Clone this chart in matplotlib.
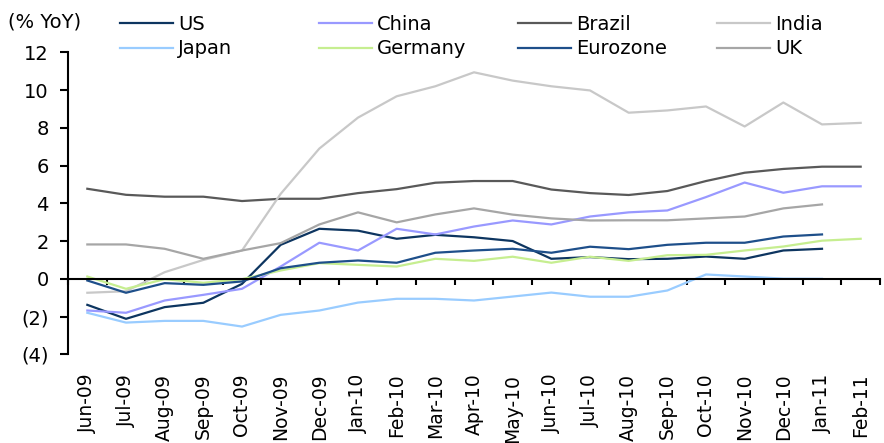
import numpy as np
import matplotlib
matplotlib.use("Agg")
import matplotlib.pyplot as plt

plt.rcParams['font.family'] = ['DejaVu Sans']

months = ['Jun-09', 'Jul-09', 'Aug-09', 'Sep-09', 'Oct-09', 'Nov-09', 'Dec-09',
          'Jan-10', 'Feb-10', 'Mar-10', 'Apr-10', 'May-10', 'Jun-10', 'Jul-10',
          'Aug-10', 'Sep-10', 'Oct-10', 'Nov-10', 'Dec-10', 'Jan-11', 'Feb-11']
nan = np.nan
us = [-1.38, -2.12, -1.5, -1.27, -0.27, 1.8, 2.65, 2.55, 2.12, 2.33, 2.2,
      2.0, 1.06, 1.15, 1.04, 1.06, 1.18, 1.06, 1.5, 1.59, nan]
china = [-1.68, -1.8, -1.15, -0.85, -0.53, 0.65, 1.91, 1.5, 2.65, 2.35, 2.77,
         3.09, 2.88, 3.3, 3.52, 3.62, 4.33, 5.1, 4.56, 4.9, 4.9]
brazil = [4.77, 4.45, 4.35, 4.35, 4.12, 4.24, 4.24, 4.54, 4.75, 5.09, 5.18,
          5.18, 4.73, 4.54, 4.44, 4.65, 5.18, 5.62, 5.82, 5.94, 5.94]
india = [-0.74, -0.66, 0.35, 1.0, 1.5, 4.5, 6.9, 8.54, 9.67, 10.2, 10.94,
         10.5, 10.2, 9.98, 8.8, 8.92, 9.13, 8.07, 9.34, 8.18, 8.26]
japan = [-1.8, -2.32, -2.23, -2.23, -2.53, -1.91, -1.68, -1.26, -1.06, -1.06, -1.15,
         -0.94, -0.73, -0.95, -0.95, -0.62, 0.23, 0.12, 0.01, 0.0, nan]
germany = [0.12, -0.53, -0.02, -0.21, -0.02, 0.44, 0.83, 0.74, 0.65, 1.06, 0.95,
           1.17, 0.85, 1.17, 0.95, 1.25, 1.27, 1.5, 1.71, 2.02, 2.12]
eurozone = [-0.09, -0.74, -0.23, -0.32, -0.14, 0.56, 0.85, 0.97, 0.85, 1.38, 1.5,
            1.59, 1.38, 1.7, 1.57, 1.8, 1.91, 1.91, 2.24, 2.35, nan]
uk = [1.82, 1.82, 1.59, 1.06, 1.5, 1.89, 2.88, 3.52, 2.99, 3.41, 3.73,
      3.4, 3.2, 3.09, 3.1, 3.1, 3.2, 3.3, 3.73, 3.94, nan]

names = ['US', 'China', 'Brazil', 'India', 'Japan', 'Germany', 'Eurozone', 'UK']
series = [us, china, brazil, india, japan, germany, eurozone, uk]
colors = ['#0d3560', '#9999ff', '#595959', '#c8c8c8',
          '#99ccff', '#c6ee90', '#1e4f8a', '#a6a6a6']
yticks = list(range(-4, 13, 2))
fs = 14

fig = plt.figure(figsize=(8.84, 4.43), dpi=100)
ax = fig.add_axes([68 / 884, 1 - 354.3 / 443, 812 / 884, (354.3 - 52.3) / 443])

x = np.arange(len(months))
lines = []
for name, vals, col in zip(names, series, colors):
    ln, = ax.plot(x, vals, color=col, lw=1.6, label=name)
    lines.append(ln)

ax.set_xlim(-0.5, len(months) - 0.5)
ax.set_ylim(-4, 12)
ax.set_yticks(yticks)
ax.set_yticklabels([f'({-v})' if v < 0 else str(v) for v in yticks])

for s in ['top', 'right']:
    ax.spines[s].set_visible(False)
ax.spines['left'].set_linewidth(1.5)
ax.spines['bottom'].set_position(('data', 0))
ax.spines['bottom'].set_linewidth(1.5)
ax.set_xticks(np.arange(-0.5, len(months), 1.0))
ax.tick_params(axis='x', direction='out', length=4.5, width=1.5, labelbottom=False)
ax.tick_params(axis='y', direction='out', length=5.8, width=1.5, pad=8, labelsize=fs)

sec = ax.secondary_xaxis('bottom')
sec.set_xticks(x)
sec.set_xticklabels(months, rotation=90)
sec.tick_params(length=0, pad=14, labelsize=13.5)
sec.spines['bottom'].set_visible(False)

fig.text(8 / 884, 1 - 22 / 443, '(% YoY)', fontsize=fs, va='center', ha='left')

# legend: four equal-width columns, two rows each
for j in range(4):
    hs = [lines[j], lines[j + 4]]
    leg = fig.legend(hs, [h.get_label() for h in hs], loc='center left',
                     bbox_to_anchor=((120 + 199 * j) / 884, 1 - 36.5 / 443),
                     frameon=False, fontsize=fs, handlelength=2.75,
                     handletextpad=0.25, borderpad=0, borderaxespad=0,
                     labelspacing=0.3)

fig.savefig('out.png', dpi=100)
